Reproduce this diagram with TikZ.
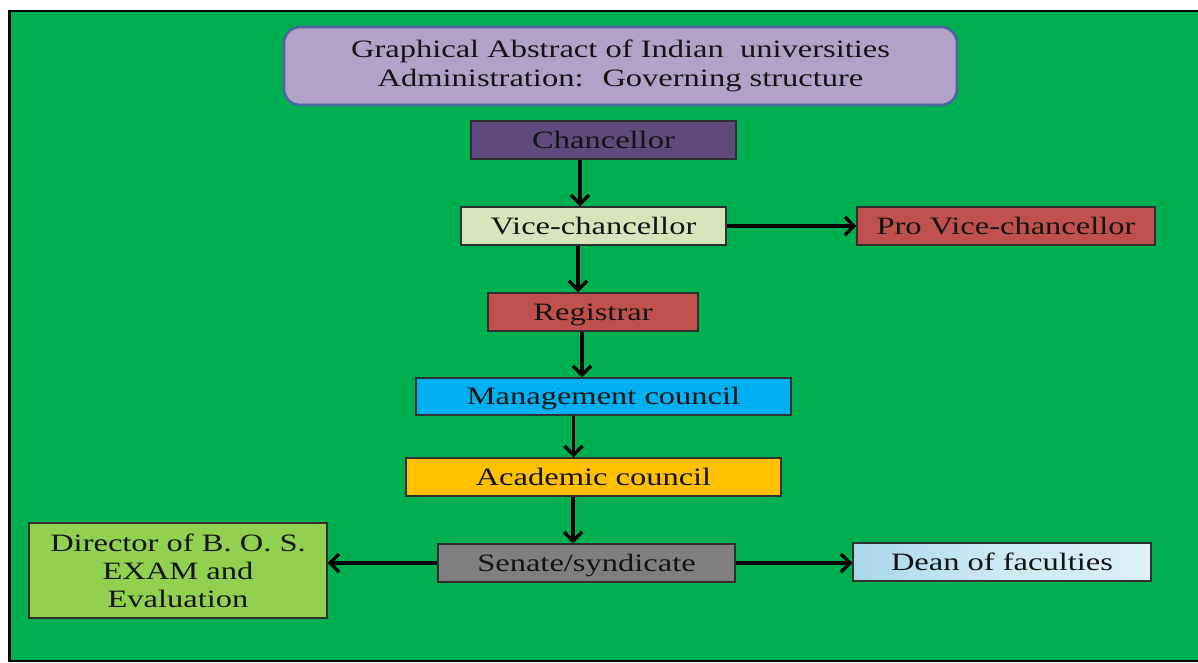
\documentclass[tikz,border=0pt]{standalone}
\usepackage{fontspec}
\setmainfont[FakeStretch=1.3]{Liberation Serif}
\usetikzlibrary{arrows.meta}
\definecolor{bggreen}{HTML}{00B050}
\definecolor{titlefill}{HTML}{B3A2C7}
\definecolor{titleline}{HTML}{4A66A0}
\definecolor{chanfill}{HTML}{604A7B}
\definecolor{vicefill}{HTML}{D8E4BC}
\definecolor{redfill}{HTML}{C0504D}
\definecolor{mgmtfill}{HTML}{00B0F0}
\definecolor{acadfill}{HTML}{FFC000}
\definecolor{senfill}{HTML}{7F7F7F}
\definecolor{dirfill}{HTML}{92D050}
\definecolor{deanA}{HTML}{A9D8EA}
\definecolor{deanB}{HTML}{DDF1F8}
\definecolor{boxline}{HTML}{303030}
\definecolor{txt}{HTML}{141414}
\tikzset{
  box/.style={draw=boxline, line width=1.3pt, inner sep=0pt, align=center,
    text=txt, font=\fontsize{25}{28}\selectfont},
  onebox/.style={box, text height=21pt, text depth=5pt},
  arr/.style={line width=3.8pt, -{Straight Barb[length=9pt,width=18pt,line width=3.4pt]}},
}
\begin{document}
\begin{tikzpicture}[x=1pt,y=-1pt]
\useasboundingbox (0,0) rectangle (1198,662);
\fill[white] (0,0) rectangle (1198,662);
\fill[bggreen] (10,11) rectangle (1198,661);
\draw[line width=3pt] (9.5,10) -- (9.5,662);
\draw[line width=2pt] (8,11) -- (1198,11);
\draw[line width=2pt] (8,661) -- (1198,661);
% title
\node[box, draw=titleline, line width=2.6pt, fill=titlefill, rounded corners=16pt,
  minimum width=673pt, minimum height=78pt, font=\fontsize{25}{29}\selectfont]
  (title) at (620.5,66) {\raisebox{-2pt}{\parbox{600pt}{\centering Graphical Abstract of Indian~~universities\\Administration:~ Governing structure}}};
\node[onebox, fill=chanfill, minimum width=265pt, minimum height=38pt] (chan) at (603.5,140) {Chancellor};
\node[onebox, fill=vicefill, minimum width=265pt, minimum height=38pt] (vice) at (593.5,226) {Vice-chancellor};
\node[onebox, fill=redfill, minimum width=298pt, minimum height=38pt] (pro) at (1006,226) {Pro Vice-chancellor};
\node[onebox, fill=redfill, minimum width=210pt, minimum height=38pt] (reg) at (593,312) {Registrar};
\node[onebox, fill=mgmtfill, minimum width=375pt, minimum height=37pt] (mgmt) at (603.5,396.5) {Management council};
\node[onebox, fill=acadfill, minimum width=375pt, minimum height=38pt] (acad) at (593.5,477) {Academic council};
\node[onebox, fill=senfill, minimum width=297pt, minimum height=38pt] (sen) at (586.5,563) {Senate/syndicate};
\node[box, fill=dirfill, minimum width=298pt, minimum height=95pt] (dir) at (178,570.5) {Director of B. O. S.\\EXAM and\\Evaluation};
\node[onebox, left color=deanA, right color=deanB, middle color=deanB!70!deanA, minimum width=298pt, minimum height=38pt] (dean) at (1002,562) {Dean of faculties};
% connectors
\draw[arr] ([xshift=-23.5pt]chan.south) -- ([xshift=-13.5pt]vice.north);
\draw[arr] ([xshift=-15.5pt]vice.south) -- ([xshift=-15pt]reg.north);
\draw[arr] ([xshift=-11pt]reg.south) -- ([xshift=-21.5pt]mgmt.north);
\draw[arr] ([xshift=-30pt]mgmt.south) -- ([xshift=-20pt]acad.north);
\draw[arr] ([xshift=-20.5pt]acad.south) -- ([xshift=-13.5pt]sen.north);
\draw[arr] (vice.east) -- (pro.west);
\draw[arr] (sen.west) -- (dir.east |- sen.west);
\draw[arr] (sen.east) -- (dean.west |- sen.east);
\end{tikzpicture}
\end{document}
